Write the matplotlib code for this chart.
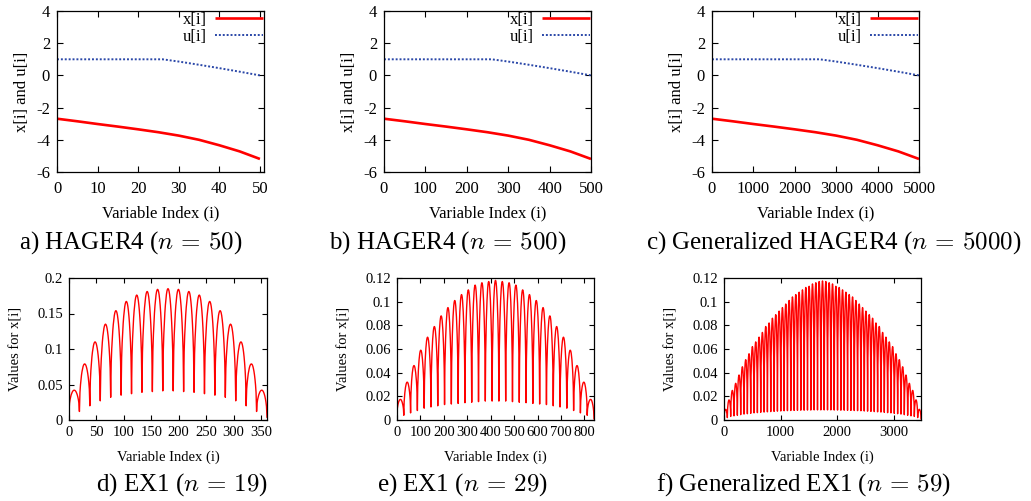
import matplotlib
matplotlib.use('Agg')
import matplotlib.pyplot as plt
import numpy as np

plt.rcParams['font.family'] = ['Liberation Serif', 'DejaVu Serif']
plt.rcParams['mathtext.fontset'] = 'cm'

W, H = 1031, 501

# ---------------- HAGER4 data (index given as fraction of n) ----------------
hager_frac = [0.0, 0.1, 0.2, 0.3, 0.4, 0.5, 0.6, 0.7, 0.8, 0.9, 1.0]
hager_x = [-2.69, -2.85, -3.02, -3.18, -3.35, -3.53, -3.74, -4.00, -4.34, -4.72, -5.19]
hager_u_frac = [0.0, 0.52, 0.6, 0.7, 0.8, 0.9, 1.0]
hager_u = [1.0, 1.0, 0.86, 0.66, 0.45, 0.23, 0.0]
hager_n = [50, 500, 5000]
hager_xticks = [[0, 10, 20, 30, 40, 50],
                [0, 100, 200, 300, 400, 500],
                [0, 1000, 2000, 3000, 4000, 5000]]
hager_yticks = [-6, -4, -2, 0, 2, 4]
hager_captions = [r"a) HAGER4 ($n\,=\,50$)",
                  r"b) HAGER4 ($n\,=\,500$)",
                  r"c) Generalized HAGER4 ($n\,=\,5000$)"]

# ---------------- EX1 data ----------------
ex1_n = [19, 29, 59]
ex1_peaks_19 = [0.042, 0.079, 0.110, 0.135, 0.154, 0.167, 0.176, 0.181, 0.184, 0.185,
                0.184, 0.181, 0.176, 0.167, 0.154, 0.135, 0.110, 0.079, 0.042]
ex1_troughs_19 = [0.012, 0.012, 0.020, 0.027, 0.032, 0.035, 0.037, 0.039, 0.040, 0.041,
                  0.041, 0.040, 0.039, 0.037, 0.035, 0.032, 0.027, 0.020, 0.012, 0.004]
ex1_peaks_29 = [0.0174, 0.032, 0.046, 0.059, 0.070, 0.079, 0.088, 0.095, 0.101, 0.106,
                0.110, 0.114, 0.116, 0.117, 0.118, 0.117, 0.116, 0.114, 0.110, 0.106,
                0.101, 0.095, 0.088, 0.079, 0.070, 0.059, 0.046, 0.032, 0.0174]
ex1_troughs_29 = [0.005, 0.004, 0.006, 0.008, 0.010, 0.011, 0.012, 0.013, 0.0135, 0.014,
                  0.0146, 0.015, 0.0155, 0.016, 0.016, 0.016, 0.016, 0.0155, 0.015, 0.0146,
                  0.014, 0.0135, 0.013, 0.012, 0.011, 0.010, 0.008, 0.006, 0.004, 0.001]
ex1_peaks_59 = [0.009, 0.017, 0.025, 0.031, 0.038, 0.045, 0.051, 0.056, 0.062, 0.066,
                0.070, 0.074, 0.079, 0.082, 0.086, 0.089, 0.092, 0.095, 0.098, 0.101,
                0.104, 0.106, 0.108, 0.110, 0.112, 0.113, 0.115, 0.116, 0.117, 0.1175,
                0.117, 0.116, 0.115, 0.113, 0.112, 0.110, 0.108, 0.106, 0.104, 0.101,
                0.098, 0.095, 0.092, 0.089, 0.086, 0.082, 0.079, 0.074, 0.070, 0.066,
                0.062, 0.056, 0.051, 0.045, 0.038, 0.031, 0.025, 0.017, 0.009]
ex1_troughs_59 = [0.001, 0.002, 0.003, 0.0035, 0.004, 0.0045, 0.005, 0.0053, 0.0056, 0.006,
                  0.0062, 0.0065, 0.0067, 0.0069, 0.0071, 0.0073, 0.0075, 0.0076, 0.0078, 0.0079,
                  0.008, 0.0081, 0.0082, 0.0083, 0.0083, 0.0084, 0.0084, 0.0085, 0.0085, 0.0085,
                  0.0085, 0.0085, 0.0085, 0.0084, 0.0084, 0.0083, 0.0083, 0.0082, 0.0081, 0.008,
                  0.0079, 0.0078, 0.0076, 0.0075, 0.0073, 0.0071, 0.0069, 0.0067, 0.0065, 0.0062,
                  0.006, 0.0056, 0.0053, 0.005, 0.0045, 0.004, 0.0035, 0.003, 0.002, 0.001]
arch_profile = [0.0, 0.396, 0.556, 0.673, 0.767, 0.841, 0.899, 0.945, 0.976, 0.994, 1.0,
                0.994, 0.976, 0.945, 0.899, 0.841, 0.767, 0.673, 0.556, 0.396, 0.0]
ex1_peaks = [ex1_peaks_19, ex1_peaks_29, ex1_peaks_59]
ex1_troughs = [ex1_troughs_19, ex1_troughs_29, ex1_troughs_59]
ex1_xticks = [[0, 50, 100, 150, 200, 250, 300, 350],
              [0, 100, 200, 300, 400, 500, 600, 700, 800],
              [0, 1000, 2000, 3000]]
ex1_yticks = [[0, 0.05, 0.1, 0.15, 0.2],
              [0, 0.02, 0.04, 0.06, 0.08, 0.1, 0.12],
              [0, 0.02, 0.04, 0.06, 0.08, 0.1, 0.12]]
ex1_ylim = [0.2, 0.12, 0.12]
ex1_captions = [r"d) EX1 ($n\,=\,19$)",
                r"e) EX1 ($n\,=\,29$)",
                r"f) Generalized EX1 ($n\,=\,59$)"]

RED = '#ff0000'
BLUE = '#2a47a8'

fig = plt.figure(figsize=(W / 100, H / 100), dpi=100)


def add_ax(l, r, t, b):
    return fig.add_axes([l / W, 1 - b / H, (r - l) / W, (b - t) / H])


def fmt(v):
    s = ('%g' % v)
    return s


def style(ax, size, length, xpad, ypad):
    ax.tick_params(direction='in', top=True, right=True, length=length, width=0.8,
                   labelsize=size)
    ax.tick_params(axis='x', pad=xpad)
    ax.tick_params(axis='y', pad=ypad)
    for s in ax.spines.values():
        s.set_linewidth(0.9)


# ---------------- top row ----------------
top_pos = [(57, 264), (384, 591), (712, 919)]
top_cap_x = [131, 448, 834]
for k in range(3):
    l, r = top_pos[k]
    ax = add_ax(l, r, 11, 172)
    n = hager_n[k]
    xi = [f * n for f in hager_frac]
    ui = [f * n for f in hager_u_frac]
    ax.plot(xi, hager_x, color=RED, lw=1.9, label='x[i]', solid_capstyle='butt')
    ax.plot(ui, hager_u, color=BLUE, lw=1.4, linestyle=(0, (1, 1)), label='u[i]')
    ax.set_xlim(0, n * 1.02 if k == 0 else n)
    ax.set_ylim(-6, 4)
    ax.set_xticks(hager_xticks[k])
    ax.set_xticklabels([str(v) for v in hager_xticks[k]])
    ax.set_yticks(hager_yticks)
    ax.set_yticklabels([str(v) for v in hager_yticks])
    style(ax, 12, 4, 6.5, 5)
    leg = ax.legend(loc='upper right', frameon=False, markerfirst=False, fontsize=12,
                    handlelength=2.9, handletextpad=0.5, labelspacing=0.05,
                    borderaxespad=0.0, borderpad=0.05)
    fig.text((l + r) / 2 / W, 1 - 213 / H, 'Variable Index (i)', ha='center', va='center',
             fontsize=12)
    fig.text((l - 35) / W, 1 - 91.5 / H, 'x[i] and u[i]', ha='center', va='center',
             rotation=90, fontsize=12)
    fig.text(top_cap_x[k] / W, 1 - 243 / H, hager_captions[k], ha='center', va='center',
             fontsize=18)

# ---------------- bottom row ----------------
bot_pos = [(69, 267), (397, 594), (724, 921)]
bot_cap_x = [182, 462, 804]
for k in range(3):
    l, r = bot_pos[k]
    ax = add_ax(l, r, 278, 420)
    n = ex1_n[k]
    peaks = ex1_peaks[k]
    troughs = ex1_troughs[k]
    m = len(arch_profile)
    xs, ys = [], []
    for j in range(n):
        for q in range(m):
            t = q / (m - 1)
            base = troughs[j] if t <= 0.5 else troughs[j + 1]
            xs.append((j + t) * n)
            ys.append(base + (peaks[j] - base) * arch_profile[q])
    ax.plot(xs, ys, color=RED, lw=1.0)
    ax.set_xlim(0, n * n)
    ax.set_ylim(0, ex1_ylim[k])
    ax.set_xticks(ex1_xticks[k])
    ax.set_xticklabels([str(v) for v in ex1_xticks[k]])
    ax.set_yticks(ex1_yticks[k])
    ax.set_yticklabels([fmt(v) for v in ex1_yticks[k]])
    style(ax, 10.5, 3.5, 4.5, 4.5)
    fig.text((l + r) / 2 / W, 1 - 457 / H, 'Variable Index (i)', ha='center', va='center',
             fontsize=10.5)
    fig.text((l - 53) / W, 1 - 349 / H, 'Values for x[i]', ha='center', va='center',
             rotation=90, fontsize=10.5)
    fig.text(bot_cap_x[k] / W, 1 - 485 / H, ex1_captions[k], ha='center', va='center',
             fontsize=18)

fig.savefig('out.png', dpi=100)
